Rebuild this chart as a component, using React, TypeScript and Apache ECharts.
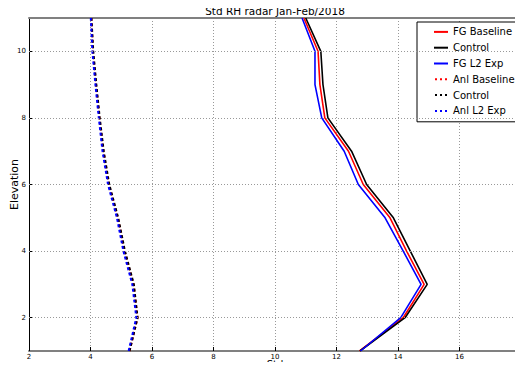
import React, { useEffect, useRef } from "react";
import * as echarts from "echarts";

// Elevation levels (y) and standard deviation of RH (x) per experiment
const elevation = [1, 2, 3, 4, 5, 6, 7, 8, 9, 10, 11];

const fgBaseline = [12.75, 14.17, 14.85, 14.28, 13.74, 12.87, 12.39, 11.62, 11.46, 11.4, 10.94];
const fgControl = [12.76, 14.23, 14.95, 14.4, 13.85, 12.98, 12.49, 11.72, 11.56, 11.49, 11.0];
const fgL2Exp = [12.78, 14.09, 14.75, 14.17, 13.58, 12.71, 12.25, 11.52, 11.3, 11.3, 10.88];

const anlBaseline = [5.27, 5.53, 5.4, 5.11, 4.89, 4.6, 4.42, 4.29, 4.18, 4.08, 4.03];
const anlControl = [5.27, 5.53, 5.41, 5.12, 4.9, 4.61, 4.43, 4.3, 4.19, 4.09, 4.03];
const anlL2Exp = [5.24, 5.49, 5.36, 5.07, 4.86, 4.57, 4.39, 4.27, 4.16, 4.06, 4.01];

const yTicks = [2, 4, 6, 8, 10];

const FONT = "DejaVu Sans";

const SOLID_ICON = "rect";
const DOTTED_ICON = "path://M0,0h2v2h-2z M5,0h2v2h-2z M10,0h2v2h-2z";

const pairs = (xs: number[]) => xs.map((x, i) => [x, elevation[i]]);

export default function App() {
  const ref = useRef<HTMLDivElement>(null);

  useEffect(() => {
    if (!ref.current) return;
    const chart = echarts.init(ref.current, null, { renderer: "svg" });

    const solid = (name: string, data: number[], color: string) => ({
      name,
      type: "line",
      data: pairs(data),
      symbol: "none",
      xAxisIndex: 0,
      yAxisIndex: 0,
      lineStyle: { color, width: 1.6, type: "solid" },
      itemStyle: { color },
    });
    const dotted = (name: string, data: number[], color: string) => ({
      name,
      type: "line",
      data: pairs(data),
      symbol: "none",
      xAxisIndex: 0,
      yAxisIndex: 0,
      lineStyle: { color, width: 2, type: [3, 2.5] },
      itemStyle: { color },
    });

    const labelNames: Record<string, string> = { "Anl Control": "Control" };

    // Title and x-axis caption, centred over the plot area
    const caption = (text: string, y: number, fontSize: number) => ({
      type: "text",
      x: 275,
      y,
      style: {
        text,
        fontFamily: FONT,
        fontSize,
        fill: "#000",
        align: "center",
        verticalAlign: "middle",
      },
    });

    chart.setOption({
      animation: false,
      backgroundColor: "#ffffff",
      textStyle: { fontFamily: FONT },
      grid: { left: 29, right: 2, top: 18, bottom: 19, containLabel: false, outerBoundsMode: "none" },
      graphic: [caption("Std RH radar Jan-Feb/2018", 11, 10.5), caption("Std", 364.5, 10)],
      legend: {
        orient: "vertical",
        left: 417,
        top: 22,
        padding: [2, 7, 3, 17],
        itemGap: 0,
        itemWidth: 14,
        itemHeight: 2,
        borderColor: "#000",
        borderWidth: 1,
        borderRadius: 0,
        backgroundColor: "#fff",
        data: [
          { name: "FG Baseline", icon: SOLID_ICON },
          { name: "Control", icon: SOLID_ICON },
          { name: "FG L2 Exp", icon: SOLID_ICON },
          { name: "Anl Baseline", icon: DOTTED_ICON },
          { name: "Anl Control", icon: DOTTED_ICON },
          { name: "Anl L2 Exp", icon: DOTTED_ICON },
        ],
        formatter: (name: string) => labelNames[name] ?? name,
        textStyle: { fontFamily: FONT, fontSize: 10, color: "#000", lineHeight: 15.8 },
      },
      xAxis: [
        {
          type: "value",
          min: 2,
          max: 18,
          interval: 2,
          position: "bottom",
          axisLine: { show: true, lineStyle: { color: "#808080", width: 2 } },
          axisTick: { show: true, inside: true, length: 4, lineStyle: { color: "#000" } },
          axisLabel: { fontFamily: FONT, fontSize: 7, color: "#000", margin: 2 },
          splitLine: { show: true, lineStyle: { color: "#999", width: 1, type: [1, 2] } },
        },
        {
          type: "value",
          min: 2,
          max: 18,
          interval: 2,
          position: "top",
          axisLine: { show: true, lineStyle: { color: "#808080", width: 2 } },
          axisTick: { show: false },
          axisLabel: { show: false },
          splitLine: { show: false },
        },
      ],
      yAxis: [
        {
          type: "value",
          min: 1,
          max: 11,
          interval: 1,
          position: "left",
          name: "Elevation",
          nameLocation: "middle",
          nameGap: 9,
          nameMoveOverlap: false,
          nameTextStyle: { fontFamily: FONT, fontSize: 11, color: "#000" },
          axisLine: { show: true, lineStyle: { color: "#000", width: 1 } },
          axisTick: { show: true, inside: true, length: 4, customValues: yTicks, lineStyle: { color: "#000" } },
          axisLabel: { fontFamily: FONT, fontSize: 7, color: "#000", margin: 3, customValues: yTicks },
          splitLine: { show: false },
        },
        {
          type: "value",
          min: 1,
          max: 11,
          interval: 1,
          position: "right",
          axisLine: { show: true, lineStyle: { color: "#000", width: 1 } },
          axisTick: { show: false },
          axisLabel: { show: false },
          splitLine: { show: false },
        },
      ],
      series: [
        {
          name: "grid",
          type: "line",
          data: [],
          xAxisIndex: 0,
          yAxisIndex: 0,
          silent: true,
          markLine: {
            silent: true,
            symbol: "none",
            label: { show: false },
            lineStyle: { color: "#999", width: 1, type: [1, 2] },
            data: yTicks.map((v) => ({ yAxis: v })),
          },
        },
        solid("FG Baseline", fgBaseline, "#ff0000"),
        solid("Control", fgControl, "#000000"),
        solid("FG L2 Exp", fgL2Exp, "#0000ff"),
        dotted("Anl Baseline", anlBaseline, "#ff0000"),
        dotted("Anl Control", anlControl, "#000000"),
        dotted("Anl L2 Exp", anlL2Exp, "#0000ff"),
      ],
    });

    return () => chart.dispose();
  }, []);

  return <div ref={ref} style={{ width: 523, height: 370, margin: -8 }} />;
}
